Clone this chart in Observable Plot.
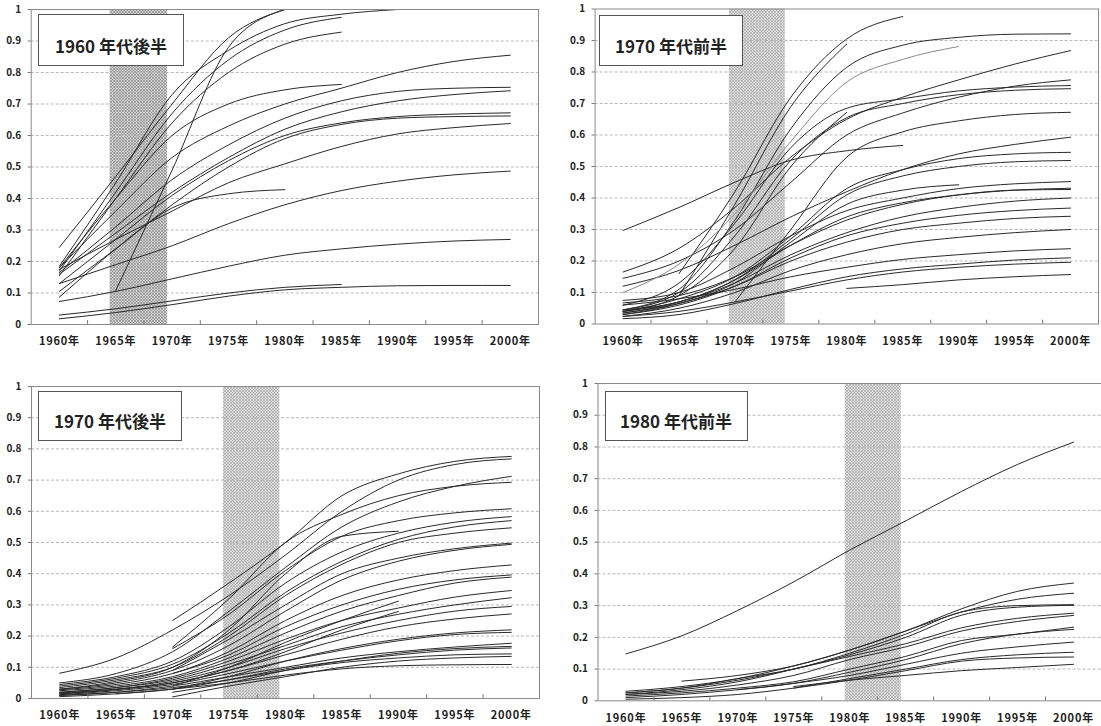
<!DOCTYPE html>
<html><head><meta charset="utf-8">
<script src="https://cdn.jsdelivr.net/npm/d3@7"></script>
<script src="https://cdn.jsdelivr.net/npm/@observablehq/plot@0.6"></script>
<style>
body{margin:0;background:#fff;}
#wrap{position:relative;width:1101px;height:726px;overflow:hidden;background:#fff;font-family:"Noto Sans CJK JP","Noto Sans",sans-serif;}
.panel{position:absolute;}
.title{position:absolute;background:#fff;border:1.5px solid #555;box-sizing:border-box;display:flex;align-items:center;justify-content:center;padding-top:10px;font-size:17px;font-weight:bold;color:#222;white-space:nowrap;}
</style></head><body><div id="wrap"></div>
<script>
// ---------- data ----------
const years = [1960, 1965, 1970, 1975, 1980, 1985, 1990, 1995, 2000];
const xMinorTicks = [1962.5, 1967.5, 1972.5, 1977.5, 1982.5, 1987.5, 1992.5, 1997.5];
const yTicks = [0, 0.1, 0.2, 0.3, 0.4, 0.5, 0.6, 0.7, 0.8, 0.9, 1];
const gridValues = [0.1, 0.2, 0.3, 0.4, 0.5, 0.6, 0.7, 0.8, 0.9];
const titles = ["1960 年代後半", "1970 年代前半", "1970 年代後半", "1980 年代前半"];
const bands = [[1964.5, 1969.6], [1969.5, 1974.5], [1974.5, 1979.5], [1979.6, 1984.6]];

const n = null;
const p1Series = [
  [n, 0.108, 0.49, 0.88, 1.0, n, n, n, n],
  [0.245, 0.47, 0.70, 0.91, 1.0, n, n, n, n],
  [0.185, 0.45, 0.73, 0.87, 0.955, 0.985, 1.0, n, n],
  [0.17, 0.42, 0.67, 0.84, 0.935, 0.975, n, n, n],
  [0.155, 0.40, 0.64, 0.80, 0.89, 0.928, n, n, n],
  [0.18, 0.40, 0.60, 0.70, 0.745, 0.762, n, n, n],
  [0.18, 0.36, 0.53, 0.63, 0.70, 0.75, 0.80, 0.835, 0.855],
  [0.165, 0.31, 0.46, 0.57, 0.655, 0.71, 0.74, 0.75, 0.753],
  [0.16, 0.29, 0.42, 0.53, 0.62, 0.675, 0.71, 0.73, 0.742],
  [0.13, 0.27, 0.41, 0.52, 0.60, 0.64, 0.66, 0.668, 0.672],
  [0.087, 0.24, 0.38, 0.50, 0.59, 0.635, 0.655, 0.66, 0.662],
  [0.175, 0.27, 0.36, 0.45, 0.51, 0.565, 0.605, 0.625, 0.638],
  [0.105, 0.24, 0.37, 0.415, 0.428, n, n, n, n],
  [0.13, 0.19, 0.25, 0.32, 0.38, 0.425, 0.455, 0.475, 0.487],
  [0.073, 0.105, 0.145, 0.185, 0.22, 0.24, 0.255, 0.265, 0.27],
  [0.03, 0.05, 0.075, 0.10, 0.118, 0.127, n, n, n],
  [0.018, 0.038, 0.063, 0.09, 0.11, 0.118, 0.123, 0.124, 0.124]
];

const p2Series = [
  [0.297, 0.37, 0.45, 0.52, 0.55, 0.567, n, n, n],
  [n, 0.16, 0.42, 0.72, 0.905, 0.976, n, n, n],
  [n, 0.09, 0.38, 0.69, 0.889, n, n, n, n],
  [0.045, 0.11, 0.33, 0.62, 0.815, 0.885, 0.91, 0.92, 0.921],
  [0.10, 0.19, 0.35, 0.58, 0.768, 0.84, 0.881, n, n],
  [0.165, 0.24, 0.37, 0.53, 0.65, 0.72, 0.775, 0.825, 0.868],
  [0.145, 0.20, 0.30, 0.45, 0.60, 0.67, 0.72, 0.755, 0.775],
  [0.06, 0.13, 0.32, 0.56, 0.685, 0.715, 0.74, 0.752, 0.757],
  [0.045, 0.10, 0.28, 0.52, 0.655, 0.70, 0.728, 0.742, 0.747],
  [0.04, 0.09, 0.24, 0.50, 0.672, n, n, n, n],
  [n, n, 0.07, 0.30, 0.53, 0.61, 0.645, 0.665, 0.672],
  [0.12, 0.17, 0.25, 0.34, 0.42, 0.49, 0.54, 0.57, 0.593],
  [0.04, 0.08, 0.15, 0.28, 0.43, 0.49, 0.525, 0.54, 0.545],
  [0.035, 0.07, 0.14, 0.27, 0.41, 0.47, 0.50, 0.515, 0.519],
  [0.03, 0.065, 0.13, 0.26, 0.38, 0.425, 0.442, n, n],
  [0.075, 0.10, 0.18, 0.28, 0.36, 0.40, 0.43, 0.445, 0.452],
  [0.045, 0.07, 0.14, 0.25, 0.34, 0.385, 0.41, 0.425, 0.431],
  [0.067, 0.09, 0.15, 0.25, 0.33, 0.38, 0.41, 0.425, 0.427],
  [0.04, 0.07, 0.13, 0.22, 0.29, 0.34, 0.37, 0.39, 0.40],
  [0.03, 0.06, 0.12, 0.21, 0.28, 0.32, 0.345, 0.36, 0.368],
  [0.035, 0.065, 0.12, 0.20, 0.26, 0.30, 0.32, 0.335, 0.342],
  [0.024, 0.05, 0.10, 0.17, 0.22, 0.255, 0.275, 0.29, 0.30],
  [0.06, 0.08, 0.11, 0.15, 0.18, 0.205, 0.22, 0.232, 0.239],
  [0.017, 0.03, 0.065, 0.11, 0.15, 0.175, 0.19, 0.203, 0.21],
  [0.024, 0.04, 0.07, 0.105, 0.14, 0.165, 0.18, 0.19, 0.196],
  [n, n, n, n, 0.113, 0.125, 0.14, 0.15, 0.157]
];
const p2GrayIndex = 4;

const p3Series = [
  [0.081, 0.13, 0.22, 0.33, 0.46, 0.60, 0.70, 0.75, 0.768],
  [n, n, 0.25, 0.37, 0.50, 0.65, 0.72, 0.76, 0.776],
  [n, n, 0.165, 0.32, 0.50, 0.59, 0.65, 0.68, 0.693],
  [0.05, 0.08, 0.15, 0.28, 0.42, 0.55, 0.63, 0.68, 0.712],
  [n, n, 0.16, 0.27, 0.41, 0.52, 0.57, 0.595, 0.608],
  [0.045, 0.07, 0.12, 0.23, 0.37, 0.47, 0.53, 0.565, 0.583],
  [0.04, 0.065, 0.11, 0.21, 0.34, 0.44, 0.51, 0.55, 0.57],
  [0.035, 0.06, 0.10, 0.20, 0.33, 0.43, 0.50, 0.53, 0.547],
  [0.03, 0.055, 0.10, 0.22, 0.40, 0.52, 0.536, n, n],
  [n, n, 0.09, 0.19, 0.30, 0.40, 0.45, 0.48, 0.498],
  [0.03, 0.05, 0.09, 0.17, 0.28, 0.38, 0.44, 0.475, 0.494],
  [0.028, 0.045, 0.08, 0.15, 0.25, 0.33, 0.38, 0.41, 0.428],
  [n, n, 0.08, 0.14, 0.23, 0.30, 0.35, 0.38, 0.396],
  [0.025, 0.04, 0.07, 0.13, 0.21, 0.28, 0.33, 0.37, 0.389],
  [0.02, 0.035, 0.065, 0.12, 0.19, 0.25, 0.29, 0.325, 0.346],
  [0.02, 0.035, 0.06, 0.11, 0.17, 0.23, 0.27, 0.30, 0.323],
  [n, n, 0.04, 0.10, 0.18, 0.25, 0.312, n, n],
  [0.018, 0.03, 0.055, 0.10, 0.16, 0.21, 0.25, 0.28, 0.295],
  [0.015, 0.03, 0.05, 0.09, 0.15, 0.22, 0.279, n, n],
  [0.015, 0.028, 0.05, 0.09, 0.14, 0.19, 0.23, 0.255, 0.271],
  [n, n, 0.03, 0.07, 0.12, 0.16, 0.19, 0.21, 0.22],
  [0.012, 0.025, 0.045, 0.08, 0.12, 0.155, 0.185, 0.205, 0.212],
  [0.01, 0.02, 0.04, 0.07, 0.10, 0.13, 0.15, 0.165, 0.177],
  [n, n, 0.02, 0.05, 0.09, 0.12, 0.145, 0.16, 0.167],
  [n, 0.015, 0.03, 0.06, 0.095, 0.12, 0.14, 0.155, 0.162],
  [0.01, 0.02, 0.035, 0.06, 0.09, 0.115, 0.13, 0.14, 0.143],
  [n, n, 0.005, 0.04, 0.07, 0.10, 0.12, 0.13, 0.135],
  [0.006, 0.015, 0.03, 0.05, 0.075, 0.095, 0.105, 0.108, 0.109]
];

const p4Series = [
  [0.148, 0.205, 0.285, 0.375, 0.475, 0.567, 0.66, 0.745, 0.815],
  [0.03, 0.045, 0.07, 0.11, 0.16, 0.22, 0.29, 0.345, 0.371],
  [n, 0.062, 0.08, 0.11, 0.16, 0.22, 0.28, 0.32, 0.339],
  [0.025, 0.04, 0.07, 0.10, 0.15, 0.21, 0.28, 0.30, 0.303],
  [0.02, 0.035, 0.06, 0.10, 0.145, 0.20, 0.27, 0.295, 0.301],
  [0.025, 0.04, 0.065, 0.10, 0.14, 0.18, 0.23, 0.26, 0.276],
  [0.02, 0.03, 0.05, 0.08, 0.13, 0.17, 0.22, 0.25, 0.269],
  [0.015, 0.025, 0.04, 0.06, 0.10, 0.14, 0.19, 0.21, 0.232],
  [n, n, 0.035, 0.055, 0.09, 0.13, 0.18, 0.21, 0.225],
  [0.01, 0.02, 0.035, 0.055, 0.08, 0.115, 0.15, 0.17, 0.185],
  [n, n, n, 0.04, 0.07, 0.10, 0.13, 0.145, 0.153],
  [0.005, 0.01, 0.02, 0.04, 0.065, 0.095, 0.125, 0.135, 0.138],
  [n, n, n, 0.045, 0.065, 0.08, 0.095, 0.105, 0.115]
];

// ---------- layout ----------
const layout = [
  {left: 0, top: 0, width: 550, height: 360, mL: 30.7, mR: 12, mT: 9, mB: 36, box: [38, 14, 146, 52], hatch: "dense"},
  {left: 550, top: 0, width: 551, height: 360, mL: 44.6, mR: 3, mT: 8.5, mB: 36.5, box: [599, 14.5, 144, 51], hatch: "light"},
  {left: 0, top: 370, width: 550, height: 356, mL: 31, mR: 11, mT: 16, mB: 28, box: [38, 390.5, 144, 50], hatch: "light"},
  {left: 550, top: 370, width: 551, height: 356, mL: 47.5, mR: 0, mT: 13, mB: 25.7, box: [604.5, 390.5, 143, 50.5], hatch: "light"}
];
const allSeries = [p1Series, p2Series, p3Series, p4Series];

const wrap = document.getElementById("wrap");

allSeries.forEach((series, pi) => {
  const L = layout[pi];
  const rows = [];
  series.forEach((vals, si) => vals.forEach((v, j) => rows.push({s: si, year: years[j], value: v == null ? NaN : v})));
  const gray = pi === 1 ? p2GrayIndex : -1;
  const hatchId = "hatch" + pi;
  const plot = Plot.plot({
    width: L.width, height: L.height,
    marginLeft: L.mL, marginRight: L.mR, marginTop: L.mT, marginBottom: L.mB,
    x: {domain: [1957.5, 2002.5], label: null},
    y: {domain: [0, 1], label: null},
    style: {fontFamily: '"Noto Sans CJK JP", sans-serif', fontWeight: "bold", color: "#222", background: "transparent", overflow: "visible"},
    marks: [
      Plot.rect([bands[pi]], {x1: d => d[0], x2: d => d[1], fill: `url(#${hatchId})`}),
      Plot.ruleY(gridValues, {stroke: "#b8b8b8", strokeDasharray: "3,2", strokeWidth: 1}),
      Plot.line(rows.filter(r => r.s !== gray), {x: "year", y: "value", z: "s", curve: "monotone-x", stroke: "#2a2a2a", strokeWidth: 1}),
      Plot.line(rows.filter(r => r.s === gray), {x: "year", y: "value", z: "s", curve: "monotone-x", stroke: "#8a8a8a", strokeWidth: 1}),
      Plot.frame({stroke: "#8a8a8a", strokeWidth: 1}),
      Plot.ruleX(xMinorTicks, {y1: 0, y2: 0.012, stroke: "#777"}),
      Plot.axisY({ticks: yTicks, tickSize: 3, tickPadding: 7, tickFormat: d => String(+d.toFixed(1)), fontSize: 10, label: null, stroke: "#777"}),
      Plot.axisX({ticks: years, tickSize: 0, tickPadding: 13, tickFormat: d => d + "年", fontSize: 11, label: null})
    ]
  });
  const svg = d3.select(plot);
  const defs = svg.insert("defs", ":first-child");
  const pat = defs.append("pattern").attr("id", hatchId).attr("patternUnits", "userSpaceOnUse").attr("width", 3).attr("height", 3);
  if (L.hatch === "dense") {
    pat.append("rect").attr("width", 3).attr("height", 3).attr("fill", "#cfcfcf");
    pat.append("path").attr("d", "M0,0L3,3M3,0L0,3").attr("stroke", "#8e8e8e").attr("stroke-width", 0.7);
  } else {
    pat.append("rect").attr("width", 3).attr("height", 3).attr("fill", "#dcdcdc");
    pat.append("path").attr("d", "M0,0L3,3M3,0L0,3").attr("stroke", "#a2a2a2").attr("stroke-width", 0.6);
  }
  svg.selectAll('[aria-label="x-axis tick label"] text').attr("letter-spacing", "0.8px");
  const div = document.createElement("div");
  div.className = "panel";
  div.style.left = L.left + "px";
  div.style.top = L.top + "px";
  div.appendChild(plot);
  wrap.appendChild(div);

  const t = document.createElement("div");
  t.className = "title";
  t.style.left = L.box[0] + "px";
  t.style.top = L.box[1] + "px";
  t.style.width = L.box[2] + "px";
  t.style.height = L.box[3] + "px";
  t.textContent = titles[pi];
  wrap.appendChild(t);
});
</script>
</body></html>
